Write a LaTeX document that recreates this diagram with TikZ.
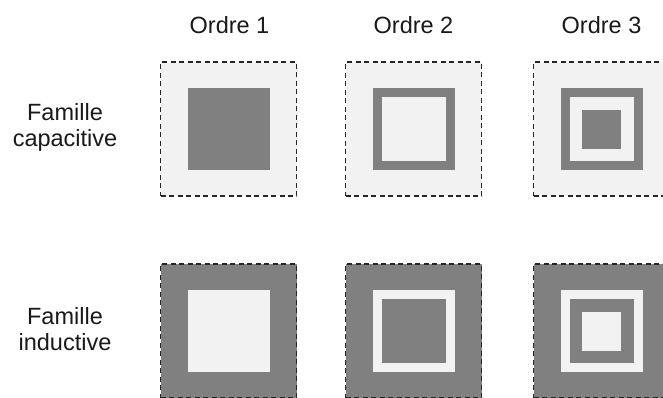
\documentclass[tikz,border=0pt]{standalone}
\usepackage{fontspec}
\setmainfont{Liberation Sans}
\definecolor{dk}{HTML}{808080}
\definecolor{lt}{HTML}{F2F2F2}
\begin{document}
\begin{tikzpicture}[x=1pt,y=-1pt,
  outerbox/.style={rectangle, minimum width=136pt, minimum height=134pt, inner sep=0pt,
    draw=black!85, line width=1.4pt, dash pattern=on 5pt off 3.5pt},
  sq/.style={rectangle, inner sep=0pt, minimum size=#1},
  lbl/.style={font=\fontsize{23.5}{26}\selectfont, align=center, text=black!90}
]
\useasboundingbox (0,0) rectangle (663,397);
\clip (0,0) rectangle (663,397);

% column headers
\node[lbl, anchor=base] (o1) at (229.5,33) {Ordre 1};
\node[lbl, anchor=base] (o2) at (413.5,33) {Ordre 2};
\node[lbl, anchor=base] (o3) at (601.5,33) {Ordre 3};

% row labels
\node[lbl] (fc) at (65,127) {Famille\\capacitive};
\node[lbl] (fi) at (65,329) {Famille\\inductive};

% capacitive family
\node[outerbox, fill=lt] (c1) at (228.5,129) {};
\node[sq=82pt, fill=dk] (c1a) at (c1) {};

\node[outerbox, fill=lt] (c2) at (413.5,129) {};
\node[sq=82pt, fill=dk] (c2a) at (c2) {};
\node[sq=64pt, fill=lt] (c2b) at (c2) {};

\node[outerbox, fill=lt] (c3) at (601.5,129) {};
\node[sq=82pt, fill=dk] (c3a) at (c3) {};
\node[sq=64pt, fill=lt] (c3b) at (c3) {};
\node[sq=39pt, fill=dk] (c3c) at (c3) {};

% inductive family
\node[outerbox, fill=dk] (i1) at (228.5,331) {};
\node[sq=82pt, fill=lt] (i1a) at (i1) {};

\node[outerbox, fill=dk] (i2) at (413.5,331) {};
\node[sq=82pt, fill=lt] (i2a) at (i2) {};
\node[sq=64pt, fill=dk] (i2b) at (i2) {};

\node[outerbox, fill=dk] (i3) at (601.5,331) {};
\node[sq=82pt, fill=lt] (i3a) at (i3) {};
\node[sq=64pt, fill=dk] (i3b) at (i3) {};
\node[sq=39pt, fill=lt] (i3c) at (i3) {};
\end{tikzpicture}
\end{document}
